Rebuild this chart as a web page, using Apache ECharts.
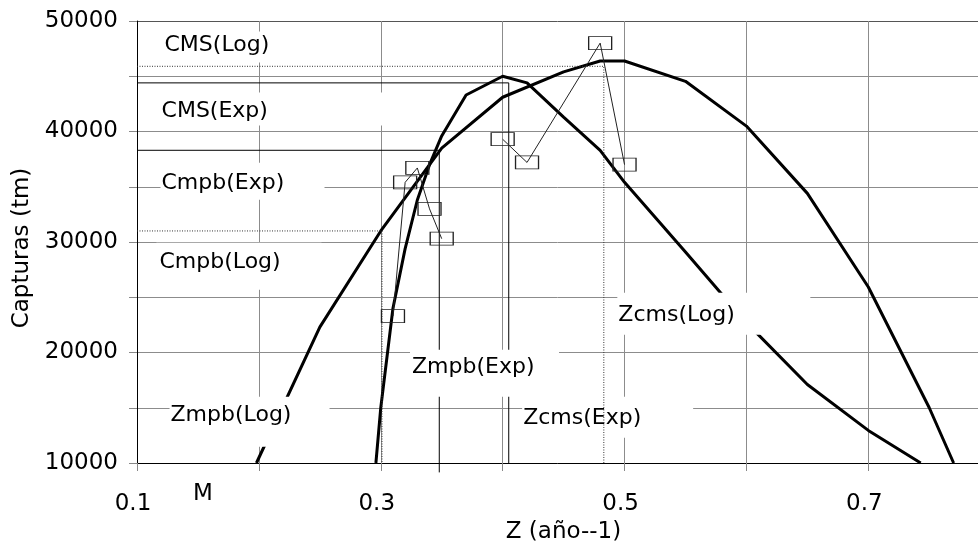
<!DOCTYPE html>
<html>
<head>
<meta charset="utf-8">
<script src="https://cdn.jsdelivr.net/npm/echarts@6/dist/echarts.min.js"></script>
<style>
  html, body { margin: 0; padding: 0; background: #fff; }
  #chart { width: 978px; height: 549px; }
</style>
</head>
<body>
<div id="chart"></div>
<script>
// Capturas de equilibrio frente a la mortalidad total Z (modelos exponencial y logístico)
const FONT = 'DejaVu Sans';

// Curva del modelo exponencial
const expZ     = [0.296, 0.30, 0.31, 0.32, 0.33, 0.34, 0.35, 0.37, 0.40, 0.42, 0.45, 0.48, 0.50, 0.55, 0.60, 0.65, 0.70, 0.743];
const expCatch = [10000, 15000, 24000, 29400, 33800, 37000, 39600, 43300, 45000, 44400, 41300, 38300, 35400, 29100, 22700, 17100, 12950, 10000];

// Curva del modelo logístico
const logZ     = [0.198, 0.25, 0.30, 0.35, 0.40, 0.45, 0.48, 0.50, 0.55, 0.60, 0.65, 0.70, 0.75, 0.77];
const logCatch = [10000, 22300, 31000, 38500, 43100, 45400, 46380, 46380, 44540, 40490, 34400, 25930, 15000, 10000];

// Capturas observadas (null separa los dos tramos)
const obsZ     = [0.31, 0.32, 0.33, 0.34, 0.35, null, 0.40, 0.42, 0.48, 0.50];
const obsCatch = [23300, 35400, 36700, 33000, 30300, null, 39300, 37200, 48000, 37000];

// Puntos de referencia: captura máxima sostenible (CMS) y máximo por recluta (Cmpb)
const refNames  = ['CMS(Log)', 'CMS(Exp)', 'Cmpb(Exp)', 'Cmpb(Log)'];
const refZ      = [0.483, 0.405, 0.348, 0.301];
const refCatch  = [45900, 44400, 38300, 31000];
const refBottom = [10000, 10000, 9150, 10000];

// Rótulos dentro del gráfico, anclados en coordenadas de datos
const noteText  = ['CMS(Log)', 'CMS(Exp)', 'Cmpb(Exp)', 'Cmpb(Log)', 'Zmpb(Log)', 'Zmpb(Exp)', 'Zcms(Log)', 'Zcms(Exp)'];
const noteZ     = [0.1205, 0.1181, 0.1197, 0.1164, 0.1271, 0.3244, 0.4945, 0.4164];
const noteCatch = [49004, 43478, 37138, 29891, 15942, 20199, 25362, 15942];

// Rótulos de los ejes
const xTickLabels = ['0.1', '0.3', '0.5', '0.7'];
const yTickLabels = ['10000', '20000', '30000', '40000', '50000'];

// Caja blanca de cada rótulo: ancho, alto y margen interior
const noteBoxes = [
  { w: 150, h: 31, pt: 3, pl: 3 },
  { w: 233, h: 33, pt: 8, pl: 3 },
  { w: 164, h: 37, pt: 10, pl: 1 },
  { w: 165, h: 47, pt: 9, pl: 3 },
  { w: 160, h: 50, pt: 7, pl: 1 },
  { w: 149, h: 47, pt: 6, pl: 2 },
  { w: 193, h: 42, pt: 12, pl: 1 },
  { w: 171, h: 41, pt: 10, pl: 1 }
];

const zip = (xs, ys) => xs.map((x, i) => [x, ys[i]]);

// Serie observada partida en tramos donde hay null
const obsSegments = [];
let seg = [];
obsZ.forEach((z, i) => {
  if (z === null || obsCatch[i] === null) {
    if (seg.length) obsSegments.push(seg);
    seg = [];
  } else {
    seg.push([z, obsCatch[i]]);
  }
});
if (seg.length) obsSegments.push(seg);

const series = [];

series.push({
  name: 'Exp', type: 'line', data: zip(expZ, expCatch),
  showSymbol: false, z: 2, silent: true,
  lineStyle: { color: '#000', width: 3 }
});
series.push({
  name: 'Log', type: 'line', data: zip(logZ, logCatch),
  showSymbol: false, z: 2, silent: true,
  lineStyle: { color: '#000', width: 3 }
});

// Líneas de referencia: horizontal desde el eje y caída vertical hasta el eje X
refNames.forEach((name, i) => {
  const dotted = name.indexOf('Log') >= 0;
  series.push({
    name: name, type: 'line', silent: true, showSymbol: false,
    clip: false,
    z: dotted ? 5 : 2,
    data: [[0.1, refCatch[i]], [refZ[i], refCatch[i]], [refZ[i], refBottom[i]]],
    lineStyle: dotted
      ? { color: '#333', width: 1, type: [1, 1.5] }
      : { color: '#000', width: 1, type: 'solid' }
  });
});

obsSegments.forEach((segData, k) => {
  series.push({
    name: 'Obs' + k, type: 'line', data: segData, silent: true,
    z: 6,
    symbol: 'rect', symbolSize: [23, 13], showAllSymbol: true,
    itemStyle: { color: 'rgba(0,0,0,0)', borderColor: '#222', borderWidth: 1 },
    lineStyle: { color: '#222', width: 1 }
  });
});

series.push({
  name: 'Rotulos', type: 'scatter', silent: true, z: 4,
  symbolSize: 1,
  itemStyle: { color: '#fff', opacity: 1 },
  data: noteText.map((t, i) => {
    const b = noteBoxes[i];
    return {
      name: t,
      value: [noteZ[i], noteCatch[i]],
      label: {
        show: true, position: [0, 0], formatter: '{b}',
        align: 'left', verticalAlign: 'top', opacity: 1,
        fontFamily: FONT, fontSize: 22, lineHeight: 22, color: '#000',
        backgroundColor: '#fff',
        width: b.w - b.pl, height: b.h - b.pt,
        padding: [b.pt, 0, 0, b.pl]
      }
    };
  })
});

const ySplitColors = ['#8c8c8c', '#8c8c8c', '#8c8c8c', '#8c8c8c', '#8c8c8c', '#8c8c8c', '#8c8c8c', '#8c8c8c', '#555'];

const option = {
  animation: false,
  backgroundColor: '#fff',
  grid: { left: 137, right: 0, top: 21, bottom: 86 },
  xAxis: {
    type: 'value', min: 0.1, max: 0.79, interval: 0.1,
    name: 'Z (año--1)', nameLocation: 'middle', nameGap: 56,
    nameTextStyle: { fontFamily: FONT, fontSize: 23, color: '#000', padding: [0, 0, 0, 12] },
    axisLine: { show: true, onZero: false, lineStyle: { color: '#000', width: 1 } },
    axisTick: { show: true, length: 8, lineStyle: { color: '#888' } },
    axisLabel: {
      fontFamily: FONT, fontSize: 23, color: '#000', margin: 30,
      padding: [0, 8, 0, 0],
      showMaxLabel: false,
      formatter: v => {
        const s = (Math.round(v * 10) / 10).toFixed(1);
        return xTickLabels.indexOf(s) >= 0 ? s : '';
      }
    },
    splitLine: { show: true, lineStyle: { color: '#8c8c8c', width: 1 } }
  },
  yAxis: {
    type: 'value', min: 10000, max: 50000, interval: 5000,
    name: 'Capturas (tm)', nameLocation: 'middle', nameGap: 100,
    nameTextStyle: { fontFamily: FONT, fontSize: 23, color: '#000', padding: [0, 12, 0, 0] },
    axisLine: { show: true, lineStyle: { color: '#000', width: 1 } },
    axisTick: { show: true, length: 8, lineStyle: { color: '#888' } },
    axisLabel: {
      fontFamily: FONT, fontSize: 23, color: '#000', margin: 19,
      formatter: v => {
        const s = String(Math.round(v));
        return yTickLabels.indexOf(s) >= 0 ? s : '';
      }
    },
    splitLine: { show: true, lineStyle: { color: ySplitColors, width: 1 } }
  },
  graphic: [{
    type: 'text', left: 193, top: 483, silent: true,
    style: { text: 'M', fontFamily: FONT, fontSize: 23, fill: '#000' }
  }],
  series: series
};

const chart = echarts.init(document.getElementById('chart'));
chart.setOption(option);
</script>
</body>
</html>
